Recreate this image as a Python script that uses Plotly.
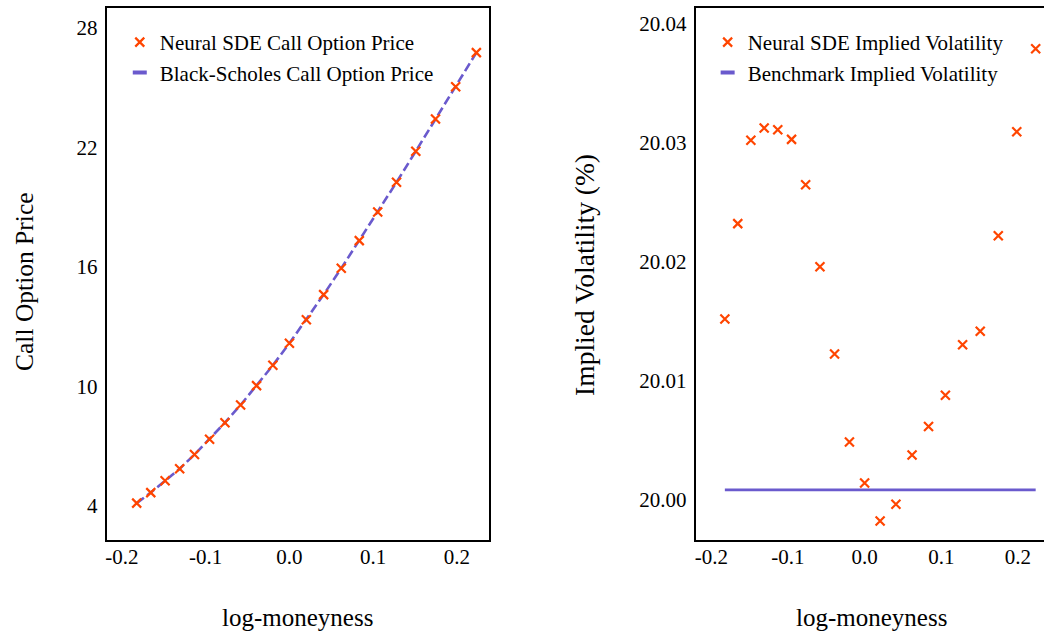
import plotly.graph_objects as go

# log-moneyness log(S/K) for strikes 120, 118, ..., 80 with S = 100
log_moneyness = [-0.18232, -0.16551, -0.14842, -0.13103, -0.11333, -0.09531,
                 -0.07696, -0.05827, -0.03922, -0.01980, 0.0, 0.02020, 0.04082,
                 0.06188, 0.08338, 0.10536, 0.12783, 0.15082, 0.17435, 0.19845,
                 0.22314]

neural_sde_price = [4.14, 4.67, 5.26, 5.87, 6.58, 7.35, 8.18, 9.07, 10.04, 11.06,
                    12.17, 13.35, 14.61, 15.93, 17.32, 18.76, 20.25, 21.81, 23.43,
                    25.05, 26.76]
black_scholes_price = [4.14, 4.67, 5.26, 5.87, 6.58, 7.35, 8.18, 9.07, 10.04, 11.06,
                       12.17, 13.35, 14.61, 15.93, 17.32, 18.76, 20.25, 21.81, 23.43,
                       25.05, 26.76]

neural_sde_iv = [20.01515, 20.02317, 20.03017, 20.03120, 20.03106, 20.03025,
                 20.02644, 20.01955, 20.01221, 20.00482, 20.00137, 19.99818,
                 19.99958, 20.00372, 20.00612, 20.00874, 20.01299, 20.01412,
                 20.02215, 20.03089, 20.03787]
benchmark_iv = [20.0008] * len(log_moneyness)

x_ticks = [-0.2, -0.1, 0.0, 0.1, 0.2]
x_tick_text = ["-0.2", "-0.1", "0.0", "0.1", "0.2"]
price_ticks = [4, 10, 16, 22, 28]
iv_ticks = [20.00, 20.01, 20.02, 20.03, 20.04]
iv_tick_text = ["20.00", "20.01", "20.02", "20.03", "20.04"]

ORANGE = "#FF4500"
SLATE = "#6A5ACD"
FONT = "Liberation Serif, Times New Roman, DejaVu Serif, serif"
W, H = 1044, 634

fig = go.Figure()

cross = dict(symbol="x-thin", size=9, line=dict(width=2.2, color=ORANGE), color=ORANGE)

# Left panel: call prices
fig.add_trace(go.Scatter(
    x=log_moneyness, y=black_scholes_price, mode="lines",
    line=dict(color=SLATE, width=2.6, dash="9px,4px"),
    showlegend=False, xaxis="x", yaxis="y"))
fig.add_trace(go.Scatter(
    x=log_moneyness, y=neural_sde_price, mode="markers", marker=cross,
    name="Neural SDE Call Option Price", legend="legend", xaxis="x", yaxis="y"))
fig.add_trace(go.Scatter(
    x=[None], y=[None], mode="markers",
    marker=dict(symbol="line-ew", size=10, line=dict(width=4, color=SLATE)),
    name="Black-Scholes Call Option Price", legend="legend", xaxis="x", yaxis="y"))

# Right panel: implied volatility
fig.add_trace(go.Scatter(
    x=log_moneyness, y=benchmark_iv, mode="lines",
    line=dict(color=SLATE, width=2.8),
    showlegend=False, xaxis="x2", yaxis="y2"))
fig.add_trace(go.Scatter(
    x=log_moneyness, y=neural_sde_iv, mode="markers", marker=cross,
    name="Neural SDE Implied Volatility", legend="legend2", xaxis="x2", yaxis="y2"))
fig.add_trace(go.Scatter(
    x=[None], y=[None], mode="markers",
    marker=dict(symbol="line-ew", size=10, line=dict(width=4, color=SLATE)),
    name="Benchmark Implied Volatility", legend="legend2", xaxis="x2", yaxis="y2"))

def px_x(p):
    return p / W

def px_y(p):
    return 1 - p / H

ydom = [px_y(540), px_y(8)]
axis_common = dict(showgrid=False, zeroline=False, showline=True, linecolor="black",
                   linewidth=2, ticks="",
                   tickfont=dict(family=FONT, size=21, color="black"))

fig.update_layout(
    width=W, height=H, margin=dict(l=0, r=0, t=0, b=0),
    paper_bgcolor="white", plot_bgcolor="white",
    font=dict(family=FONT, color="black"),
    xaxis=dict(domain=[px_x(105), px_x(488)], range=[-0.218, 0.2383],
               tickvals=x_ticks, ticktext=x_tick_text, mirror=True,
               ticklabelstandoff=-3, anchor="y", **axis_common),
    yaxis=dict(domain=ydom, range=[2.29, 29.0], tickvals=price_ticks,
               mirror=True, ticklabelstandoff=3, anchor="x", **axis_common),
    xaxis2=dict(domain=[px_x(695), 1.0], range=[-0.2204, 0.2340],
                tickvals=x_ticks, ticktext=x_tick_text, mirror=True,
                ticklabelstandoff=-3, anchor="y2", **axis_common),
    yaxis2=dict(domain=ydom, range=[19.99658, 20.04129], tickvals=iv_ticks,
                ticktext=iv_tick_text, mirror=False, ticklabelstandoff=3,
                anchor="x2", **axis_common),
    legend=dict(x=px_x(118), y=px_y(22), xanchor="left", yanchor="top",
                bgcolor="rgba(0,0,0,0)", font=dict(family=FONT, size=21)),
    legend2=dict(x=px_x(707), y=px_y(22), xanchor="left", yanchor="top",
                 bgcolor="rgba(0,0,0,0)", font=dict(family=FONT, size=21)),
    annotations=[
        dict(text="log-moneyness", x=px_x(296.5), y=px_y(617), xref="paper", yref="paper",
             xanchor="center", yanchor="middle", showarrow=False,
             font=dict(family=FONT, size=25)),
        dict(text="log-moneyness", x=px_x(871), y=px_y(617), xref="paper", yref="paper",
             xanchor="center", yanchor="middle", showarrow=False,
             font=dict(family=FONT, size=25)),
        dict(text="Call Option Price", x=px_x(22), y=px_y(282), xref="paper", yref="paper",
             xanchor="center", yanchor="middle", showarrow=False, textangle=-90,
             font=dict(family=FONT, size=25.5)),
        dict(text="Implied Volatility (%)", x=px_x(583), y=px_y(275), xref="paper",
             yref="paper", xanchor="center", yanchor="middle", showarrow=False,
             textangle=-90, font=dict(family=FONT, size=27.5)),
    ],
)

fig.write_html("out.html")
